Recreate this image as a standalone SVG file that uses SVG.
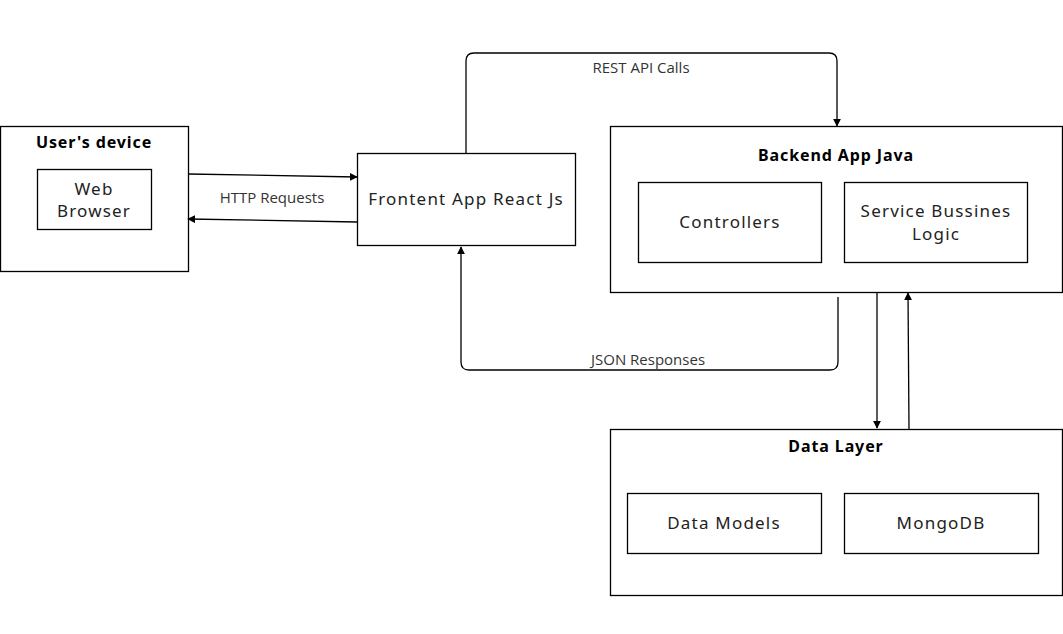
<svg xmlns="http://www.w3.org/2000/svg" width="1063" height="634" viewBox="0 0 1063 634">
<style>
.box{fill:#fff;stroke:#000;stroke-width:1.3}
.t{font-family:"Noto Sans","Open Sans",sans-serif;font-size:17px;letter-spacing:1.2px;fill:#222;text-anchor:middle}
.b{font-family:"Noto Sans","Open Sans",sans-serif;font-size:16px;letter-spacing:0.9px;font-weight:bold;fill:#000;text-anchor:middle}
.lbl{font-family:"Open Sans","Noto Sans",sans-serif;font-size:15px;fill:#333;text-anchor:middle}
.c{fill:none;stroke:#000;stroke-width:1.3}
</style>
<defs>
<marker id="ah" viewBox="0 0 10 10" refX="9" refY="5" markerWidth="8" markerHeight="8" orient="auto" markerUnits="userSpaceOnUse">
<path d="M0,0 L10,5 L0,10 z" fill="#000"/>
</marker>
</defs>
<g id="user-device">
<rect class="box" x="0.5" y="126.5" width="188" height="145"/>
<text class="b" x="94" y="148">User's device</text>
</g>
<g id="web-browser">
<rect class="box" x="37.5" y="169.5" width="114" height="60"/>
<text class="t" x="94" y="195">Web</text>
<text class="t" x="94" y="217">Browser</text>
</g>
<g id="frontend">
<rect class="box" x="357.5" y="153.5" width="218" height="92"/>
<text class="t" x="466" y="205">Frontent App React Js</text>
</g>
<g id="backend">
<rect class="box" x="610.5" y="126.5" width="452" height="166"/>
<text class="b" x="836" y="161">Backend App Java</text>
</g>
<g id="controllers">
<rect class="box" x="638.5" y="182.5" width="183" height="80"/>
<text class="t" x="730" y="228">Controllers</text>
</g>
<g id="service">
<rect class="box" x="844.5" y="182.5" width="183" height="80"/>
<text class="t" x="936" y="217">Service Bussines</text>
<text class="t" x="936" y="240">Logic</text>
</g>
<g id="data-layer">
<rect class="box" x="610.5" y="429.5" width="452" height="166"/>
<text class="b" x="836" y="452">Data Layer</text>
</g>
<g id="data-models">
<rect class="box" x="627.5" y="493.5" width="194" height="60"/>
<text class="t" x="724" y="529">Data Models</text>
</g>
<g id="mongodb">
<rect class="box" x="844.5" y="493.5" width="194" height="60"/>
<text class="t" x="941" y="529">MongoDB</text>
</g>
<g id="connectors">
<path class="c" d="M188,174 L357,177" marker-end="url(#ah)"/>
<path class="c" d="M357,222 L188,219" marker-end="url(#ah)"/>
<text class="lbl" x="272" y="203">HTTP Requests</text>
<path class="c" d="M466,153 L466,61 Q466,53 474,53 L829,53 Q837,53 837,61 L837,126" marker-end="url(#ah)"/>
<text class="lbl" x="641" y="73">REST API Calls</text>
<path class="c" d="M838,297 L838,362 Q838,370 830,370 L469,370 Q461,370 461,362 L461,247" marker-end="url(#ah)"/>
<text class="lbl" x="648" y="365">JSON Responses</text>
<path class="c" d="M877,292 L877,428" marker-end="url(#ah)"/>
<path class="c" d="M909,429 L908,293" marker-end="url(#ah)"/>
</g>
</svg>
